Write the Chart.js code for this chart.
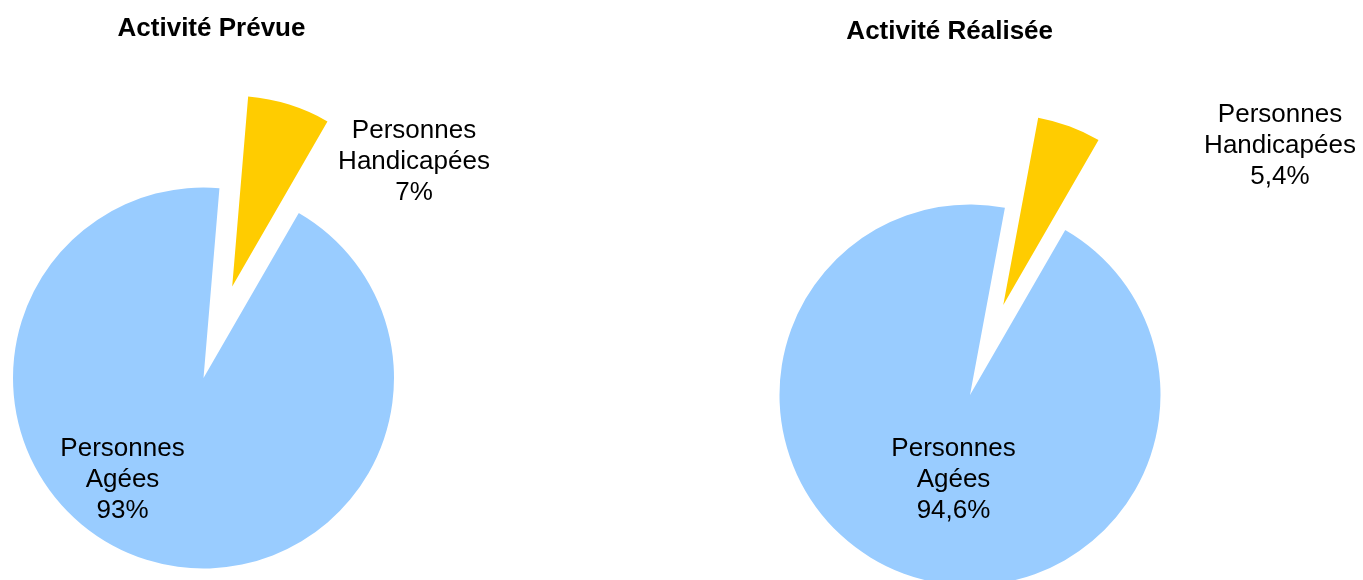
<!DOCTYPE html>
<html>
<head>
<meta charset="utf-8">
<script src="https://cdn.jsdelivr.net/npm/chart.js@4.4.1/dist/chart.umd.min.js"></script>
<style>
  body { margin: 0; background: #fff; overflow: hidden; }
  #wrap { position: relative; width: 1363px; height: 580px; }
  canvas { position: absolute; top: 0; }
</style>
</head>
<body>
<div id="wrap">
  <canvas id="chartPrevue" width="681" height="580" style="left:0"></canvas>
  <canvas id="chartRealisee" width="682" height="580" style="left:681px"></canvas>
</div>
<script>
// data
var categories = ['Personnes Agées', 'Personnes Handicapées'];
var prevueValues = [93, 7];
var realiseeValues = [94.6, 5.4];
var titles = ['Activité Prévue', 'Activité Réalisée'];
var colors = ['#99CCFF', '#FFCC00'];
var explode = [0, 96]; // how far each slice is pulled out, px

var fontFamily = "Arial, 'Liberation Sans', sans-serif";

// format 94.6 -> "94,6%"
function pct(v) {
  return String(v).replace('.', ',') + '%';
}

// draws the slices ourselves so the pulled out slice keeps its full radius
var explodePlugin = {
  id: 'explode',
  beforeDatasetDraw: function(chart, args, opts) {
    var ctx = chart.ctx;
    args.meta.data.forEach(function(arc, i) {
      var d = opts.distance[i] || 0;
      var mid = (arc.startAngle + arc.endAngle) / 2;
      ctx.save();
      ctx.translate(Math.cos(mid) * d, Math.sin(mid) * d);
      arc.draw(ctx);
      ctx.restore();
    });
    return false;
  }
};

// title and slice labels, placed from the pie centre
var textPlugin = {
  id: 'pieText',
  afterDraw: function(chart, args, opts) {
    var ctx = chart.ctx;
    var area = chart.chartArea;
    var cx = (area.left + area.right) / 2;
    var cy = (area.top + area.bottom) / 2;
    var values = chart.data.datasets[0].data;
    ctx.save();
    ctx.fillStyle = '#000';
    ctx.textAlign = 'center';
    ctx.textBaseline = 'alphabetic';
    ctx.font = 'bold 26px ' + fontFamily;
    ctx.fillText(opts.title, cx + opts.titlePos[0], cy + opts.titlePos[1]);
    ctx.font = '26px ' + fontFamily;
    chart.data.labels.forEach(function(lab, i) {
      var lines = lab.split(' ');
      lines.push(pct(values[i]));
      var p = opts.labelPos[i];
      // p[1] is the baseline of the middle line
      lines.forEach(function(line, j) {
        ctx.fillText(line, cx + p[0], cy + p[1] + (j - 1) * 31);
      });
    });
    ctx.restore();
  }
};

function makePie(id, values, title, padding, titlePos, labelPos) {
  return new Chart(document.getElementById(id), {
    type: 'pie',
    data: {
      labels: categories,
      datasets: [{
        data: values,
        backgroundColor: colors,
        borderWidth: 0
      }]
    },
    options: {
      responsive: false,
      animation: false,
      rotation: 30,
      radius: 190.5,
      layout: { padding: padding },
      plugins: {
        legend: { display: false },
        tooltip: { enabled: false },
        explode: { distance: explode },
        pieText: { title: title, titlePos: titlePos, labelPos: labelPos }
      }
    },
    plugins: [explodePlugin, textPlugin]
  });
}

makePie('chartPrevue', prevueValues, titles[0],
  { left: 0, right: 274, top: 176, bottom: 0 },
  [8, -342],
  [[-81, 108.7], [210.5, -209]]);

makePie('chartRealisee', realiseeValues, titles[1],
  { left: 0, right: 104, top: 210, bottom: 0 },
  [-20.3, -356],
  [[-16.5, 91.7], [310, -242.5]]);
</script>
</body>
</html>
